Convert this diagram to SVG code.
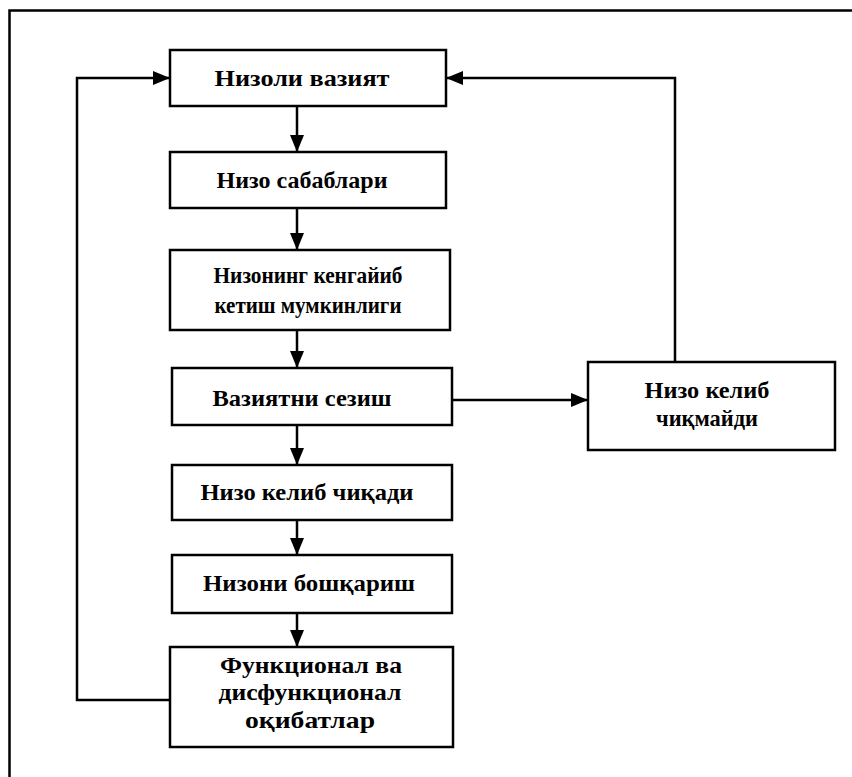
<svg xmlns="http://www.w3.org/2000/svg" width="852" height="777" viewBox="0 0 852 777">
<defs>
<style>
.box{fill:#fff;stroke:#000;stroke-width:2.5}
.t{font-family:"Liberation Serif","Times New Roman",serif;font-weight:bold;font-size:23px;fill:#000;text-anchor:middle}
.c{fill:none;stroke:#000;stroke-width:2.5}
</style>
<marker id="ah" markerUnits="userSpaceOnUse" markerWidth="18" markerHeight="14" refX="17" refY="7" orient="auto">
<path d="M0,0 L17,7 L0,14 z" fill="#000"/>
</marker>
</defs>
<rect width="852" height="777" fill="#fff"/>
<path d="M9.5,777 V10.5 H852" fill="none" stroke="#000" stroke-width="2.5"/>
<g id="connectors">
<line class="c" x1="297" y1="106" x2="297" y2="152" marker-end="url(#ah)"/>
<line class="c" x1="297" y1="208" x2="297" y2="250" marker-end="url(#ah)"/>
<line class="c" x1="297" y1="330" x2="297" y2="368" marker-end="url(#ah)"/>
<line class="c" x1="297" y1="425" x2="297" y2="465" marker-end="url(#ah)"/>
<line class="c" x1="297" y1="520" x2="297" y2="555" marker-end="url(#ah)"/>
<line class="c" x1="297" y1="613" x2="297" y2="647" marker-end="url(#ah)"/>
<line class="c" x1="452" y1="400" x2="588" y2="400" marker-end="url(#ah)"/>
<polyline class="c" points="170,700 77,700 77,78 170,78" marker-end="url(#ah)"/>
<polyline class="c" points="675,362 675,78 446,78" marker-end="url(#ah)"/>
</g>
<g id="n1"><rect class="box" x="170" y="50" width="276" height="56"/><text class="t" x="302" y="86" textLength="175" lengthAdjust="spacingAndGlyphs">Низоли вазият</text></g>
<g id="n2"><rect class="box" x="170" y="152" width="276" height="56"/><text class="t" x="302" y="188" textLength="171" lengthAdjust="spacingAndGlyphs">Низо сабаблари</text></g>
<g id="n3"><rect class="box" x="170" y="250" width="280" height="80"/><text class="t" x="308" y="283" textLength="189" lengthAdjust="spacingAndGlyphs">Низонинг кенгайиб</text><text class="t" x="308" y="313" textLength="187" lengthAdjust="spacingAndGlyphs">кетиш мумкинлиги</text></g>
<g id="n4"><rect class="box" x="172" y="368" width="280" height="57"/><text class="t" x="302" y="406" textLength="179" lengthAdjust="spacingAndGlyphs">Вазиятни сезиш</text></g>
<g id="n5"><rect class="box" x="172" y="465" width="280" height="55"/><text class="t" x="307" y="500" textLength="213" lengthAdjust="spacingAndGlyphs">Низо келиб чиқади</text></g>
<g id="n6"><rect class="box" x="172" y="555" width="280" height="58"/><text class="t" x="309" y="591" textLength="212" lengthAdjust="spacingAndGlyphs">Низони бошқариш</text></g>
<g id="n7"><rect class="box" x="170" y="647" width="283" height="100"/><text class="t" x="311" y="673" textLength="182" lengthAdjust="spacingAndGlyphs">Функционал ва</text><text class="t" x="310" y="700" textLength="183" lengthAdjust="spacingAndGlyphs">дисфункционал</text><text class="t" x="310" y="728" textLength="130" lengthAdjust="spacingAndGlyphs">оқибатлар</text></g>
<g id="n8"><rect class="box" x="588" y="362" width="247" height="88"/><text class="t" x="707" y="398" textLength="125" lengthAdjust="spacingAndGlyphs">Низо келиб</text><text class="t" x="707" y="426" textLength="102" lengthAdjust="spacingAndGlyphs">чиқмайди</text></g>
</svg>
